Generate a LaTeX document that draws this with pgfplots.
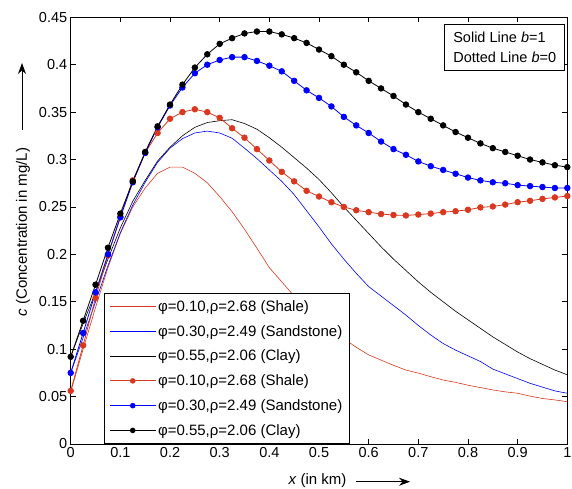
\documentclass[border=0pt]{standalone}
\usepackage{fontspec}
\setmainfont{Liberation Sans}
\usepackage{pgfplots}
\pgfplotsset{compat=1.18}
\usetikzlibrary{arrows.meta}
\definecolor{shale}{RGB}{217,56,30}
\definecolor{sandc}{RGB}{0,0,255}

\pgfplotstableread{
x     rs      bs      ks
0     0.055   0.075   0.092
0.025 0.100   0.112   0.127
0.05  0.144   0.150   0.160
0.075 0.186   0.188   0.195
0.1   0.222   0.223   0.228
0.125 0.250   0.252   0.256
0.15  0.270   0.276   0.278
0.175 0.2855  0.297   0.2985
0.2   0.292   0.312   0.313
0.225 0.292   0.322   0.325
0.25  0.2855  0.328   0.334
0.275 0.2755  0.330   0.339
0.3   0.261   0.328   0.341
0.325 0.245   0.3225  0.342
0.35  0.2265  0.312   0.338
0.375 0.2065  0.301   0.332
0.4   0.186   0.289   0.323
0.425 0.171   0.277   0.313
0.45  0.156   0.263   0.302
0.475 0.143   0.246   0.291
0.5   0.131   0.229   0.279
0.525 0.121   0.211   0.265
0.55  0.111   0.195   0.250
0.575 0.102   0.180   0.236
0.6   0.094   0.166   0.222
0.625 0.0885  0.156   0.208
0.65  0.083   0.146   0.195
0.675 0.078   0.136   0.183
0.7   0.0748  0.125   0.171
0.725 0.071   0.115   0.160
0.75  0.0675  0.106   0.150
0.775 0.065   0.099   0.140
0.8   0.062   0.093   0.131
0.825 0.0595  0.087   0.122
0.85  0.057   0.079   0.113
0.875 0.055   0.074   0.105
0.9   0.0535  0.069   0.097
0.925 0.0505  0.064   0.090
0.95  0.048   0.060   0.084
0.975 0.0465  0.056   0.078
1     0.0446  0.0535  0.073
}\solid

\pgfplotstableread{
x     rd      bd      kd
0     0.056   0.075   0.092
0.025 0.104   0.117   0.130
0.05  0.154   0.160   0.168
0.075 0.199   0.200   0.207
0.1   0.240   0.239   0.243
0.125 0.278   0.276   0.277
0.15  0.307   0.307   0.308
0.175 0.328   0.334   0.335
0.2   0.343   0.357   0.358
0.225 0.350   0.376   0.379
0.25  0.353   0.391   0.397
0.275 0.350   0.400   0.411
0.3   0.344   0.405   0.422
0.325 0.333   0.408   0.428
0.35  0.323   0.408   0.433
0.375 0.311   0.404   0.435
0.4   0.299   0.399   0.435
0.425 0.287   0.393   0.432
0.45  0.277   0.383   0.428
0.475 0.267   0.373   0.423
0.5   0.261   0.365   0.416
0.525 0.255   0.356   0.409
0.55  0.250   0.345   0.400
0.575 0.2465  0.336   0.392
0.6   0.2445  0.328   0.383
0.625 0.2425  0.319   0.375
0.65  0.2415  0.311   0.367
0.675 0.241   0.305   0.358
0.7   0.242   0.298   0.350
0.725 0.243   0.293   0.343
0.75  0.2445  0.289   0.336
0.775 0.2455  0.285   0.329
0.8   0.247   0.281   0.323
0.825 0.2495  0.278   0.317
0.85  0.2505  0.276   0.312
0.875 0.2525  0.275   0.308
0.9   0.255   0.273   0.304
0.925 0.2565  0.272   0.300
0.95  0.2585  0.271   0.297
0.975 0.260   0.270   0.294
1     0.2615  0.270   0.292
}\dotted

\begin{document}
\begin{tikzpicture}[font=\fontsize{15}{18}\selectfont]
\useasboundingbox (-70.7pt,-44pt) rectangle (501.3pt,444pt);
\begin{axis}[
  width=496.6pt, height=426.7pt, scale only axis,
  xmin=0, xmax=1, ymin=0, ymax=0.45,
  xtick={0,0.1,0.2,0.3,0.4,0.5,0.6,0.7,0.8,0.9,1},
  ytick={0,0.05,0.1,0.15,0.2,0.25,0.3,0.35,0.4,0.45},
  tick align=inside, tick pos=both,
  major tick length=5pt,
  axis line style={line width=0.8pt},
  every tick/.style={black, line width=0.6pt},
  tick label style={font=\fontsize{14.5}{17}\selectfont},
  clip=false,
  legend cell align=left,
  legend image code/.code={\draw[mark repeat=2,mark phase=2,#1,mark size=2.2pt,line width=1.1pt] plot coordinates {(0pt,0pt) (22.8pt,0pt) (45.6pt,0pt)};},
  legend style={at={(0.067,0)}, anchor=south west, draw=black, line width=0.8pt,
    fill=white, font=\fontsize{15}{18}\selectfont, row sep=8.4pt,
    inner xsep=5pt, inner ysep=5pt},
  /pgf/number format/fixed, /pgf/number format/precision=2,
  /pgf/number format/assume math mode=true,
]
\addplot[color=shale, line width=0.6pt] table[y=rs] {\solid};
\addlegendentry{φ=0.10,ρ=2.68 (Shale)}
\addplot[color=sandc, line width=0.6pt] table[y=bs] {\solid};
\addlegendentry{φ=0.30,ρ=2.49 (Sandstone)}
\addplot[color=black, line width=0.6pt] table[y=ks] {\solid};
\addlegendentry{φ=0.55,ρ=2.06 (Clay)}
\addplot[color=shale, line width=0.8pt, mark=*, mark size=2.8pt, mark options={fill=shale, draw=shale}] table[y=rd] {\dotted};
\addlegendentry{φ=0.10,ρ=2.68 (Shale)}
\addplot[color=sandc, line width=0.8pt, mark=*, mark size=2.8pt, mark options={fill=sandc, draw=sandc}] table[y=bd] {\dotted};
\addlegendentry{φ=0.30,ρ=2.49 (Sandstone)}
\addplot[color=black, line width=0.8pt, mark=*, mark size=2.8pt, mark options={fill=black, draw=black}] table[y=kd] {\dotted};
\addlegendentry{φ=0.55,ρ=2.06 (Clay)}
\end{axis}
% annotation box
\node[draw, line width=0.8pt, fill=white, anchor=north east, align=left,
  inner xsep=8.5pt, inner ysep=8pt, font=\fontsize{14.5}{19.3}\selectfont]
  at (494.3pt,420pt) {Solid Line \textit{b}=1\\Dotted Line \textit{b}=0};
% axis labels with arrows
\node[anchor=base] at (246.8pt,-40pt) {\textit{x} (in km)};
\draw[line width=0.8pt, -{Stealth[length=11pt,width=8pt]}] (285.3pt,-37.7pt) -- (339.3pt,-37.7pt);
\node[rotate=90] at (-47.7pt,212pt) {\textit{c} (Concentration in mg/L)};
\draw[line width=0.8pt, -{Stealth[length=11pt,width=8pt]}] (-48.7pt,314pt) -- (-48.7pt,381pt);
\end{tikzpicture}
\end{document}
